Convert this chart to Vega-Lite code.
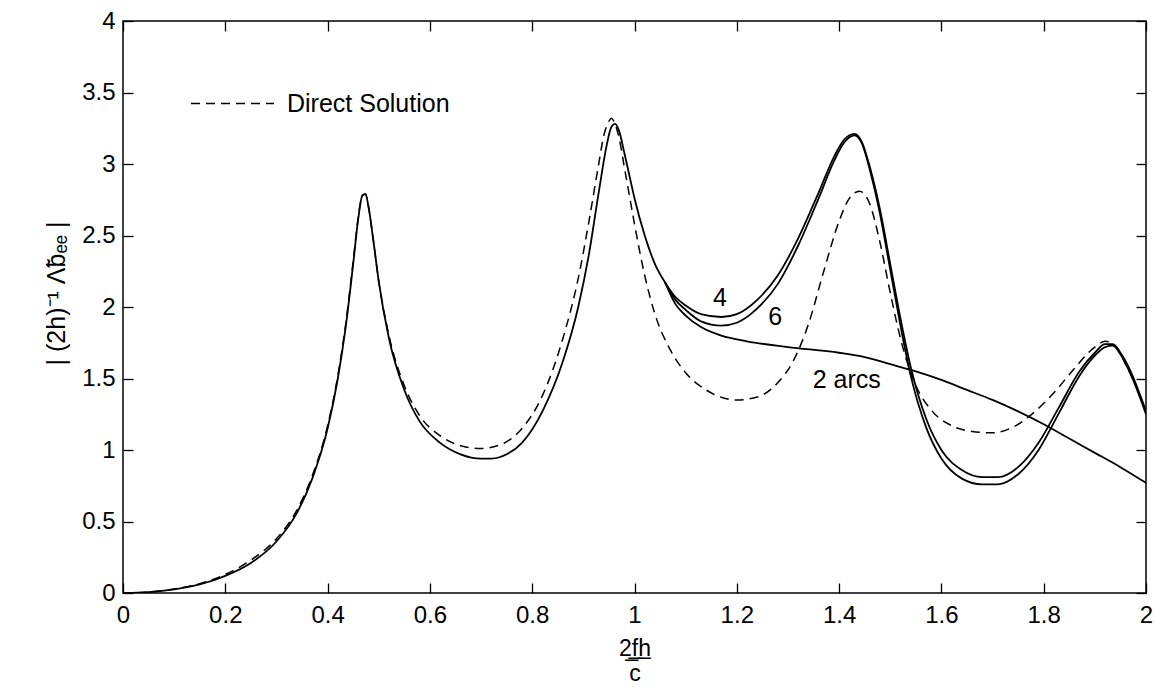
{
  "$schema": "https://vega.github.io/schema/vega-lite/v6.json",
  "autosize": {"type": "none"},
  "padding": {"left": 123, "top": 21, "right": 10, "bottom": 100},
  "width": 1023,
  "height": 572,
  "background": "white",
  "view": {"stroke": "black", "strokeWidth": 1.5},
  "config": {
    "font": "Liberation Sans",
    "axis": {
      "grid": false,
      "domain": false,
      "tickColor": "black",
      "tickWidth": 1.3,
      "tickSize": 10,
      "offset": -10,
      "format": "~g",
      "labelFlush": false,
      "labelOverlap": false,
      "labelColor": "black",
      "labelFontSize": 24,
      "labelFont": "Liberation Sans",
      "titleColor": "black",
      "titleFont": "Liberation Sans",
      "titleFontWeight": "normal",
      "titleFontSize": 24
    }
  },
  "datasets": {
    "curves": [
      {"s": "4", "x": 0, "y": 0}, {"s": "4", "x": 0.05, "y": 0.006}, {"s": "4", "x": 0.1, "y": 0.025}, {"s": "4", "x": 0.15, "y": 0.06}, {"s": "4", "x": 0.2, "y": 0.12}, {"s": "4", "x": 0.25, "y": 0.21}, {"s": "4", "x": 0.3, "y": 0.36}, {"s": "4", "x": 0.34, "y": 0.56}, {"s": "4", "x": 0.37, "y": 0.8}, {"s": "4", "x": 0.4, "y": 1.15}, {"s": "4", "x": 0.42, "y": 1.5}, {"s": "4", "x": 0.435, "y": 1.85}, {"s": "4", "x": 0.45, "y": 2.3}, {"s": "4", "x": 0.46, "y": 2.62}, {"s": "4", "x": 0.468, "y": 2.78}, {"s": "4", "x": 0.474, "y": 2.79}, {"s": "4", "x": 0.48, "y": 2.7}, {"s": "4", "x": 0.49, "y": 2.45}, {"s": "4", "x": 0.5, "y": 2.18}, {"s": "4", "x": 0.52, "y": 1.78}, {"s": "4", "x": 0.55, "y": 1.42}, {"s": "4", "x": 0.58, "y": 1.2}, {"s": "4", "x": 0.62, "y": 1.05}, {"s": "4", "x": 0.66, "y": 0.97}, {"s": "4", "x": 0.7, "y": 0.94}, {"s": "4", "x": 0.72, "y": 0.94}, {"s": "4", "x": 0.75, "y": 0.97}, {"s": "4", "x": 0.78, "y": 1.05}, {"s": "4", "x": 0.82, "y": 1.27}, {"s": "4", "x": 0.86, "y": 1.62}, {"s": "4", "x": 0.89, "y": 2.0}, {"s": "4", "x": 0.91, "y": 2.35}, {"s": "4", "x": 0.93, "y": 2.8}, {"s": "4", "x": 0.945, "y": 3.12}, {"s": "4", "x": 0.955, "y": 3.26}, {"s": "4", "x": 0.962, "y": 3.28}, {"s": "4", "x": 0.97, "y": 3.23}, {"s": "4", "x": 0.98, "y": 3.08}, {"s": "4", "x": 0.99, "y": 2.92}, {"s": "4", "x": 1.0, "y": 2.76}, {"s": "4", "x": 1.02, "y": 2.5}, {"s": "4", "x": 1.04, "y": 2.3}, {"s": "4", "x": 1.06, "y": 2.17},
      {"s": "4", "x": 1.08, "y": 2.07}, {"s": "4", "x": 1.1, "y": 2.01}, {"s": "4", "x": 1.13, "y": 1.95}, {"s": "4", "x": 1.17, "y": 1.93}, {"s": "4", "x": 1.2, "y": 1.95}, {"s": "4", "x": 1.24, "y": 2.05}, {"s": "4", "x": 1.28, "y": 2.22}, {"s": "4", "x": 1.32, "y": 2.48}, {"s": "4", "x": 1.36, "y": 2.8}, {"s": "4", "x": 1.39, "y": 3.05}, {"s": "4", "x": 1.41, "y": 3.17}, {"s": "4", "x": 1.43, "y": 3.21}, {"s": "4", "x": 1.445, "y": 3.15}, {"s": "4", "x": 1.46, "y": 2.98}, {"s": "4", "x": 1.48, "y": 2.68}, {"s": "4", "x": 1.5, "y": 2.3}, {"s": "4", "x": 1.52, "y": 1.92}, {"s": "4", "x": 1.54, "y": 1.58}, {"s": "4", "x": 1.57, "y": 1.22}, {"s": "4", "x": 1.6, "y": 1.0}, {"s": "4", "x": 1.64, "y": 0.86}, {"s": "4", "x": 1.68, "y": 0.81}, {"s": "4", "x": 1.71, "y": 0.81}, {"s": "4", "x": 1.75, "y": 0.88}, {"s": "4", "x": 1.79, "y": 1.05}, {"s": "4", "x": 1.83, "y": 1.3}, {"s": "4", "x": 1.87, "y": 1.55}, {"s": "4", "x": 1.9, "y": 1.68}, {"s": "4", "x": 1.92, "y": 1.74}, {"s": "4", "x": 1.935, "y": 1.74}, {"s": "4", "x": 1.95, "y": 1.68}, {"s": "4", "x": 1.97, "y": 1.55}, {"s": "4", "x": 1.99, "y": 1.37}, {"s": "4", "x": 2.0, "y": 1.27},
      {"s": "6", "x": 1.06, "y": 2.17}, {"s": "6", "x": 1.08, "y": 2.05}, {"s": "6", "x": 1.1, "y": 1.98}, {"s": "6", "x": 1.13, "y": 1.9}, {"s": "6", "x": 1.17, "y": 1.87}, {"s": "6", "x": 1.2, "y": 1.89}, {"s": "6", "x": 1.24, "y": 1.99}, {"s": "6", "x": 1.28, "y": 2.16}, {"s": "6", "x": 1.32, "y": 2.43}, {"s": "6", "x": 1.36, "y": 2.76}, {"s": "6", "x": 1.39, "y": 3.02}, {"s": "6", "x": 1.41, "y": 3.15}, {"s": "6", "x": 1.43, "y": 3.2}, {"s": "6", "x": 1.445, "y": 3.14}, {"s": "6", "x": 1.46, "y": 2.96}, {"s": "6", "x": 1.48, "y": 2.65}, {"s": "6", "x": 1.5, "y": 2.26}, {"s": "6", "x": 1.52, "y": 1.87}, {"s": "6", "x": 1.54, "y": 1.52}, {"s": "6", "x": 1.57, "y": 1.16}, {"s": "6", "x": 1.6, "y": 0.94}, {"s": "6", "x": 1.64, "y": 0.8}, {"s": "6", "x": 1.68, "y": 0.76}, {"s": "6", "x": 1.71, "y": 0.76}, {"s": "6", "x": 1.75, "y": 0.83}, {"s": "6", "x": 1.79, "y": 1.0}, {"s": "6", "x": 1.83, "y": 1.26}, {"s": "6", "x": 1.87, "y": 1.52}, {"s": "6", "x": 1.9, "y": 1.66}, {"s": "6", "x": 1.92, "y": 1.72}, {"s": "6", "x": 1.935, "y": 1.73}, {"s": "6", "x": 1.95, "y": 1.67}, {"s": "6", "x": 1.97, "y": 1.53}, {"s": "6", "x": 1.99, "y": 1.35}, {"s": "6", "x": 2.0, "y": 1.25},
      {"s": "2 arcs", "x": 1.06, "y": 2.17}, {"s": "2 arcs", "x": 1.08, "y": 2.02}, {"s": "2 arcs", "x": 1.1, "y": 1.94}, {"s": "2 arcs", "x": 1.13, "y": 1.86}, {"s": "2 arcs", "x": 1.17, "y": 1.8}, {"s": "2 arcs", "x": 1.22, "y": 1.76}, {"s": "2 arcs", "x": 1.3, "y": 1.72}, {"s": "2 arcs", "x": 1.4, "y": 1.68}, {"s": "2 arcs", "x": 1.45, "y": 1.65}, {"s": "2 arcs", "x": 1.5, "y": 1.6}, {"s": "2 arcs", "x": 1.55, "y": 1.55}, {"s": "2 arcs", "x": 1.6, "y": 1.49}, {"s": "2 arcs", "x": 1.65, "y": 1.42}, {"s": "2 arcs", "x": 1.7, "y": 1.35}, {"s": "2 arcs", "x": 1.75, "y": 1.27}, {"s": "2 arcs", "x": 1.8, "y": 1.18}, {"s": "2 arcs", "x": 1.85, "y": 1.08}, {"s": "2 arcs", "x": 1.9, "y": 0.98}, {"s": "2 arcs", "x": 1.95, "y": 0.88}, {"s": "2 arcs", "x": 2.0, "y": 0.77}
    ],
    "direct": [
      {"s": "Direct Solution", "x": 0, "y": 0}, {"s": "Direct Solution", "x": 0.05, "y": 0.006}, {"s": "Direct Solution", "x": 0.1, "y": 0.028}, {"s": "Direct Solution", "x": 0.15, "y": 0.065}, {"s": "Direct Solution", "x": 0.2, "y": 0.13}, {"s": "Direct Solution", "x": 0.25, "y": 0.23}, {"s": "Direct Solution", "x": 0.3, "y": 0.38}, {"s": "Direct Solution", "x": 0.34, "y": 0.58}, {"s": "Direct Solution", "x": 0.37, "y": 0.82}, {"s": "Direct Solution", "x": 0.4, "y": 1.17}, {"s": "Direct Solution", "x": 0.42, "y": 1.52}, {"s": "Direct Solution", "x": 0.435, "y": 1.87}, {"s": "Direct Solution", "x": 0.45, "y": 2.32}, {"s": "Direct Solution", "x": 0.46, "y": 2.63}, {"s": "Direct Solution", "x": 0.468, "y": 2.78}, {"s": "Direct Solution", "x": 0.474, "y": 2.79}, {"s": "Direct Solution", "x": 0.48, "y": 2.7}, {"s": "Direct Solution", "x": 0.49, "y": 2.45}, {"s": "Direct Solution", "x": 0.5, "y": 2.18}, {"s": "Direct Solution", "x": 0.52, "y": 1.8}, {"s": "Direct Solution", "x": 0.55, "y": 1.45}, {"s": "Direct Solution", "x": 0.58, "y": 1.24}, {"s": "Direct Solution", "x": 0.62, "y": 1.1}, {"s": "Direct Solution", "x": 0.66, "y": 1.03}, {"s": "Direct Solution", "x": 0.7, "y": 1.01}, {"s": "Direct Solution", "x": 0.74, "y": 1.04}, {"s": "Direct Solution", "x": 0.78, "y": 1.15}, {"s": "Direct Solution", "x": 0.82, "y": 1.38}, {"s": "Direct Solution", "x": 0.86, "y": 1.78}, {"s": "Direct Solution", "x": 0.89, "y": 2.2}, {"s": "Direct Solution", "x": 0.91, "y": 2.58}, {"s": "Direct Solution", "x": 0.93, "y": 3.0}, {"s": "Direct Solution", "x": 0.94, "y": 3.2}, {"s": "Direct Solution", "x": 0.95, "y": 3.3}, {"s": "Direct Solution", "x": 0.955, "y": 3.32}, {"s": "Direct Solution", "x": 0.962, "y": 3.28}, {"s": "Direct Solution", "x": 0.97, "y": 3.18}, {"s": "Direct Solution", "x": 0.98, "y": 2.98}, {"s": "Direct Solution", "x": 0.99, "y": 2.78}, {"s": "Direct Solution", "x": 1.0, "y": 2.58}, {"s": "Direct Solution", "x": 1.02, "y": 2.22}, {"s": "Direct Solution", "x": 1.04, "y": 1.95}, {"s": "Direct Solution", "x": 1.07, "y": 1.7}, {"s": "Direct Solution", "x": 1.1, "y": 1.54}, {"s": "Direct Solution", "x": 1.14, "y": 1.42}, {"s": "Direct Solution", "x": 1.2, "y": 1.35}, {"s": "Direct Solution", "x": 1.24, "y": 1.37}, {"s": "Direct Solution", "x": 1.28, "y": 1.47}, {"s": "Direct Solution", "x": 1.31, "y": 1.62}, {"s": "Direct Solution", "x": 1.34, "y": 1.88}, {"s": "Direct Solution", "x": 1.37, "y": 2.25}, {"s": "Direct Solution", "x": 1.4, "y": 2.6}, {"s": "Direct Solution", "x": 1.42, "y": 2.76}, {"s": "Direct Solution", "x": 1.44, "y": 2.81}, {"s": "Direct Solution", "x": 1.46, "y": 2.72}, {"s": "Direct Solution", "x": 1.48, "y": 2.45}, {"s": "Direct Solution", "x": 1.5, "y": 2.1}, {"s": "Direct Solution", "x": 1.52, "y": 1.78}, {"s": "Direct Solution", "x": 1.55, "y": 1.45}, {"s": "Direct Solution", "x": 1.58, "y": 1.28}, {"s": "Direct Solution", "x": 1.62, "y": 1.17}, {"s": "Direct Solution", "x": 1.66, "y": 1.13}, {"s": "Direct Solution", "x": 1.7, "y": 1.12}, {"s": "Direct Solution", "x": 1.74, "y": 1.16}, {"s": "Direct Solution", "x": 1.78, "y": 1.26}, {"s": "Direct Solution", "x": 1.82, "y": 1.4}, {"s": "Direct Solution", "x": 1.86, "y": 1.57}, {"s": "Direct Solution", "x": 1.9, "y": 1.72}, {"s": "Direct Solution", "x": 1.92, "y": 1.76}, {"s": "Direct Solution", "x": 1.94, "y": 1.73}, {"s": "Direct Solution", "x": 1.96, "y": 1.6}, {"s": "Direct Solution", "x": 1.98, "y": 1.45}, {"s": "Direct Solution", "x": 2.0, "y": 1.27}
    ],
    "labels": [
      {"x": 1.167, "y": 2.06, "t": "4"},
      {"x": 1.275, "y": 1.93, "t": "6"},
      {"x": 1.415, "y": 1.49, "t": "2 arcs"}
    ]
  },
  "resolve": {"axis": {"x": "independent", "y": "independent"}},
  "layer": [
    {
      "data": {"name": "curves"},
      "mark": {"type": "line", "color": "black", "strokeWidth": 1.8, "interpolate": "monotone", "clip": true},
      "encoding": {
        "x": {"field": "x", "type": "quantitative", "scale": {"domain": [0, 2], "nice": false},
              "axis": {"values": [0, 0.2, 0.4, 0.6, 0.8, 1, 1.2, 1.4, 1.6, 1.8, 2], "labelPadding": 10,
                       "title": ["2̲f̲h̲", "c"], "titleFontSize": 23, "titleY": 72, "titleBaseline": "alphabetic", "titleLineHeight": 25}},
        "y": {"field": "y", "type": "quantitative", "scale": {"domain": [0, 4], "nice": false},
              "axis": {"values": [0, 0.5, 1, 1.5, 2, 2.5, 3, 3.5, 4], "labelPadding": 8,
                       "title": "| (2h)⁻¹ Λ̃bₑₑ |", "titleFontSize": 25, "titleX": -77, "titleY": 272, "titleBaseline": "middle"}},
        "detail": {"field": "s"},
        "order": {"field": "x", "type": "quantitative"}
      }
    },
    {
      "data": {"name": "direct"},
      "mark": {"type": "line", "color": "black", "strokeWidth": 1.5, "interpolate": "monotone", "clip": true},
      "encoding": {
        "x": {"field": "x", "type": "quantitative", "axis": {"orient": "top", "labels": false, "title": null, "values": [0, 0.2, 0.4, 0.6, 0.8, 1, 1.2, 1.4, 1.6, 1.8, 2]}},
        "y": {"field": "y", "type": "quantitative", "axis": {"orient": "right", "labels": false, "title": null, "values": [0, 0.5, 1, 1.5, 2, 2.5, 3, 3.5, 4]}},
        "strokeDash": {"field": "s", "type": "nominal",
          "scale": {"domain": ["Direct Solution"], "range": [[9, 6]]},
          "legend": {"title": null, "orient": "none", "legendX": 67, "legendY": 40, "padding": 0,
                     "symbolType": "stroke", "symbolSize": 6889, "symbolStrokeWidth": 1.5, "symbolStrokeColor": "black",
                     "labelFontSize": 25, "labelFont": "Liberation Sans", "labelColor": "black", "labelOffset": 12, "labelLimit": 0}},
        "order": {"field": "x", "type": "quantitative"}
      }
    },
    {
      "data": {"name": "labels"},
      "mark": {"type": "text", "fontSize": 25, "font": "Liberation Sans", "color": "black", "align": "center", "baseline": "middle"},
      "encoding": {
        "x": {"field": "x", "type": "quantitative", "axis": null},
        "y": {"field": "y", "type": "quantitative", "axis": null},
        "text": {"field": "t"}
      }
    }
  ]
}
